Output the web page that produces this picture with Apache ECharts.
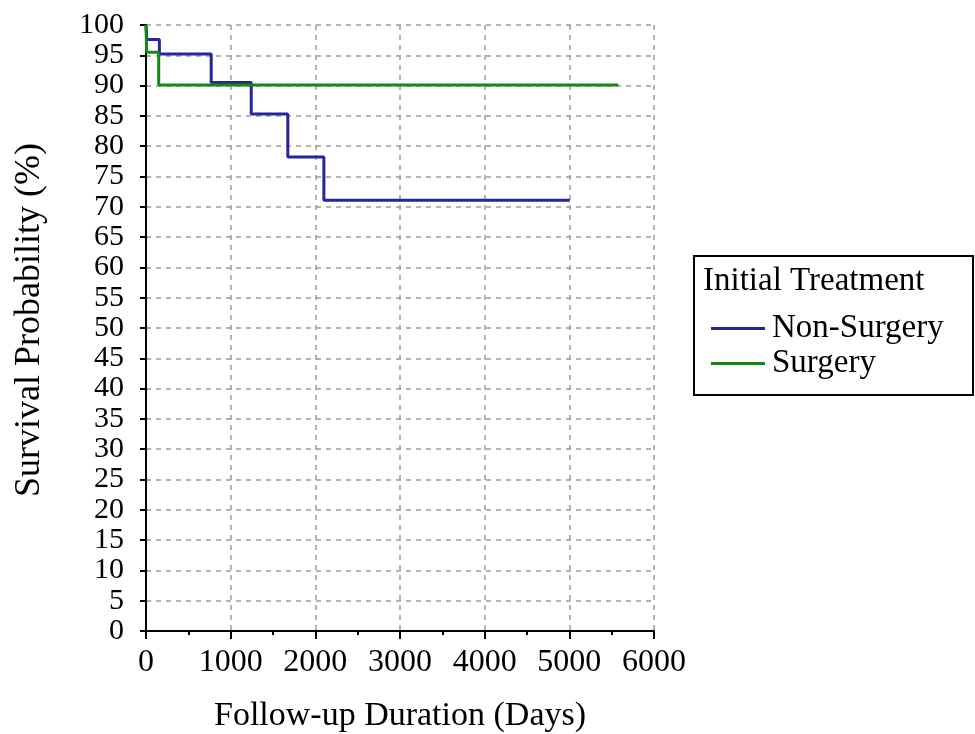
<!DOCTYPE html>
<html>
<head>
<meta charset="utf-8">
<script src="https://cdn.jsdelivr.net/npm/echarts@6/dist/echarts.min.js"></script>
<style>
  html, body { margin: 0; padding: 0; background: #fff; }
  #chart { width: 975px; height: 734px; }
</style>
</head>
<body>
<div id="chart"></div>
<script>
// Kaplan-Meier step points: [days, survival %]
const nonSurgeryDays = [0, 10, 158, 770, 1243, 1675, 2101, 5006];
const nonSurgeryPct = [100, 97.6, 95.2, 90.5, 85.3, 78.2, 71.1, 71.1];
const surgeryDays = [0, 8, 150, 5578];
const surgeryPct = [100, 95.5, 90.1, 90.1];

const seriesNames = ['Non-Surgery', 'Surgery'];
const legendTitle = 'Initial Treatment';
const xName = 'Follow-up Duration (Days)';
const yName = 'Survival Probability (%)';

const font = '"Liberation Serif", "Times New Roman", serif';
const blue = '#25259c';
const green = '#128a12';

const toPairs = (xs, ys) => xs.map((x, i) => [x, ys[i]]);

const chart = echarts.init(document.getElementById('chart'));

const gridLine = { show: true, lineStyle: { color: '#9a9a9a', width: 1.5, type: [5, 5] } };

chart.setOption({
  animation: false,
  backgroundColor: '#fff',
  grid: { left: 146, right: 321, top: 25, bottom: 103, outerBoundsMode: 'none' },
  xAxis: {
    type: 'value',
    min: 0,
    max: 6000,
    interval: 1000,
    name: xName,
    nameLocation: 'middle',
    nameGap: 68,
    nameTextStyle: { fontFamily: font, fontSize: 34, color: '#000' },
    axisLine: { lineStyle: { color: '#000', width: 2 } },
    axisTick: { length: 8, lineStyle: { color: '#000', width: 2 } },
    minorTick: { show: true, splitNumber: 2, length: 4, lineStyle: { color: '#000', width: 2 } },
    axisLabel: {
      fontFamily: font, fontSize: 32, color: '#000', margin: 16,
      showMinLabel: true, showMaxLabel: true,
      formatter: (v) => String(v)
    },
    splitLine: gridLine
  },
  yAxis: {
    type: 'value',
    min: 0,
    max: 100,
    interval: 5,
    name: yName,
    nameLocation: 'middle',
    nameGap: 98,
    nameTextStyle: { fontFamily: font, fontSize: 36, color: '#000', padding: [0, 0, 0, 16] },
    axisLine: { show: true, lineStyle: { color: '#000', width: 2 } },
    axisTick: { show: true, length: 6, lineStyle: { color: '#000', width: 2 } },
    axisLabel: {
      fontFamily: font, fontSize: 30, color: '#000', margin: 22,
      showMinLabel: true, showMaxLabel: true, hideOverlap: false
    },
    splitLine: gridLine
  },
  legend: {
    orient: 'vertical',
    left: 706,
    top: 306,
    itemWidth: 54,
    itemHeight: 3,
    itemGap: 0,
    icon: 'rect',
    textStyle: { fontFamily: font, fontSize: 33, lineHeight: 35, color: '#000', padding: [0, 0, 0, 2] },
    data: seriesNames
  },
  graphic: [
    {
      type: 'rect',
      left: 693,
      top: 255,
      shape: { width: 279, height: 139 },
      style: { fill: '#fff', stroke: '#000', lineWidth: 2 },
      z: -1
    },
    {
      type: 'text',
      left: 703,
      top: 265,
      style: { text: legendTitle, font: '33px ' + font, fill: '#000' }
    }
  ],
  series: [
    {
      name: seriesNames[0],
      type: 'line',
      step: 'end',
      symbol: 'none',
      lineStyle: { color: blue, width: 3 },
      itemStyle: { color: blue },
      data: toPairs(nonSurgeryDays, nonSurgeryPct)
    },
    {
      name: seriesNames[1],
      type: 'line',
      step: 'end',
      symbol: 'none',
      lineStyle: { color: green, width: 3 },
      itemStyle: { color: green },
      data: toPairs(surgeryDays, surgeryPct)
    }
  ]
});
</script>
</body>
</html>
